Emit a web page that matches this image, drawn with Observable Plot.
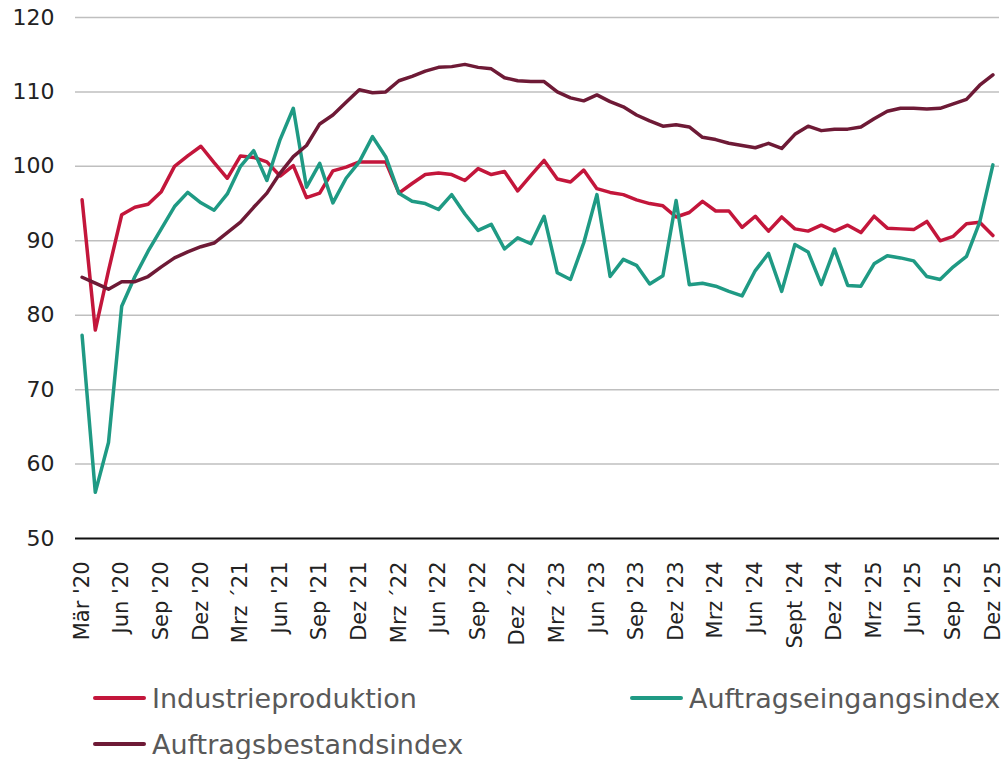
<!DOCTYPE html>
<html>
<head>
<meta charset="utf-8">
<script src="https://cdn.jsdelivr.net/npm/d3@7"></script>
<script src="https://cdn.jsdelivr.net/npm/@observablehq/plot@0.6"></script>
<style>
  html, body { margin: 0; padding: 0; background: #fff; }
  #wrap { position: relative; width: 1005px; height: 759px; font-family: "DejaVu Sans", sans-serif; }
  .leg { position: absolute; display: flex; align-items: center; font-size: 27px; color: #595959; white-space: nowrap; }
  .sw { width: 53px; height: 4px; border-radius: 2px; margin-right: 6px; }
</style>
</head>
<body>
<div id="wrap"><div id="chart"></div></div>
<script>
const tickLabels = ["Mär '20","Jun '20","Sep '20","Dez '20","Mrz ´21","Jun '21","Sep '21","Dez '21","Mrz ´22","Jun '22","Sep '22","Dez ´22","Mrz ´23","Jun '23","Sep '23","Dez '23","Mrz '24","Jun '24","Sept '24","Dez '24","Mrz '25","Jun '25","Sep '25","Dez '25"];

const seriesNames = ["Industrieproduktion", "Auftragseingangsindex", "Auftragsbestandsindex"];
const seriesColors = ["#C3163B", "#1F9A84", "#6E1A36"];

const industrie = [95.5, 78.0, 86.0, 93.5, 94.5, 94.9, 96.6, 100.0, 101.4, 102.7,
  100.5, 98.4, 101.4, 101.2, 100.6, 98.7, 100.1, 95.8, 96.4, 99.4,
  99.9, 100.6, 100.6, 100.6, 96.4, 97.7, 98.9, 99.1, 98.9, 98.1,
  99.7, 98.9, 99.3, 96.7, 98.8, 100.8, 98.3, 97.9, 99.5, 97.0,
  96.5, 96.2, 95.5, 95.0, 94.7, 93.2, 93.8, 95.3, 94.0, 94.0,
  91.8, 93.3, 91.3, 93.2, 91.6, 91.3, 92.1, 91.3, 92.1, 91.1,
  93.3, 91.7, 91.6, 91.5, 92.6, 90.0, 90.6, 92.3, 92.5, 90.7];

const auftragseingang = [77.3, 56.2, 62.9, 81.2, 85.2, 88.6, 91.6, 94.6, 96.5, 95.1,
  94.1, 96.3, 100.0, 102.1, 98.1, 103.6, 107.8, 97.2, 100.4, 95.1,
  98.4, 100.6, 104.0, 101.3, 96.4, 95.3, 95.0, 94.2, 96.2, 93.6,
  91.4, 92.2, 88.9, 90.4, 89.6, 93.3, 85.7, 84.8, 89.7, 96.2,
  85.2, 87.5, 86.7, 84.2, 85.3, 95.4, 84.1, 84.3, 83.9, 83.2,
  82.6, 86.0, 88.3, 83.2, 89.5, 88.5, 84.1, 88.9, 84.0, 83.9,
  86.9, 88.0, 87.7, 87.3, 85.2, 84.8, 86.5, 87.9, 92.5, 100.2];

const auftragsbestand = [85.1, 84.3, 83.5, 84.5, 84.5, 85.2, 86.5, 87.7, 88.5, 89.2,
  89.7, 91.1, 92.5, 94.5, 96.4, 99.1, 101.3, 102.8, 105.7, 106.9,
  108.6, 110.3, 109.9, 110.0, 111.5, 112.1, 112.8, 113.3, 113.4, 113.7,
  113.3, 113.1, 111.9, 111.5, 111.4, 111.4, 110.0, 109.2, 108.8, 109.6,
  108.7, 108.0, 106.9, 106.1, 105.4, 105.6, 105.3, 103.9, 103.6, 103.1,
  102.8, 102.5, 103.1, 102.4, 104.3, 105.4, 104.8, 105.0, 105.0, 105.3,
  106.4, 107.4, 107.8, 107.8, 107.7, 107.8, 108.4, 109.0, 110.9, 112.3];

const yTicks = [50, 60, 70, 80, 90, 100, 110, 120];

const allSeries = [industrie, auftragseingang, auftragsbestand];
const rows = allSeries.flatMap((vals, s) => vals.map((v, i) => ({series: seriesNames[s], i, v})));
const tickIdx = tickLabels.map((_, k) => k * 3);

const chart = Plot.plot({
  width: 1005,
  height: 650,
  marginLeft: 75,
  marginRight: 6,
  marginTop: 17,
  marginBottom: 112,
  style: {fontFamily: "DejaVu Sans, sans-serif", color: "#222"},
  x: {type: "linear", domain: [-0.5, auftragsbestand.length - 0.5]},
  y: {domain: [50, 120]},
  color: {domain: seriesNames, range: seriesColors},
  marks: [
    Plot.gridY(yTicks.filter(t => t > 50), {stroke: "#bfbfbf", strokeOpacity: 1, strokeWidth: 1.5}),
    Plot.ruleY([50], {stroke: "#111", strokeWidth: 2}),
    Plot.axisY(yTicks, {tickSize: 0, tickPadding: 21, fontSize: 22, fill: "#222", label: null}),
    Plot.axisX(tickIdx, {tickSize: 0, tickPadding: 23, tickRotate: -90, fontSize: 21, fill: "#222",
      tickFormat: d => tickLabels[d / 3], label: null}),
    Plot.lineY(rows, {x: "i", y: "v", z: "series", stroke: "series", strokeWidth: 3.5, strokeLinejoin: "round", strokeLinecap: "round"})
  ]
});
document.getElementById("chart").appendChild(chart);

const wrap = document.getElementById("wrap");
const legendPos = [[93, 698], [630, 698], [93, 744]];
seriesNames.forEach((name, s) => {
  const d = document.createElement("div");
  d.className = "leg";
  d.style.left = legendPos[s][0] + "px";
  d.style.top = (legendPos[s][1] - 16) + "px";
  d.style.height = "32px";
  const sw = document.createElement("span");
  sw.className = "sw";
  sw.style.background = seriesColors[s];
  const t = document.createElement("span");
  t.textContent = name;
  d.appendChild(sw); d.appendChild(t);
  wrap.appendChild(d);
});
</script>
</body>
</html>
